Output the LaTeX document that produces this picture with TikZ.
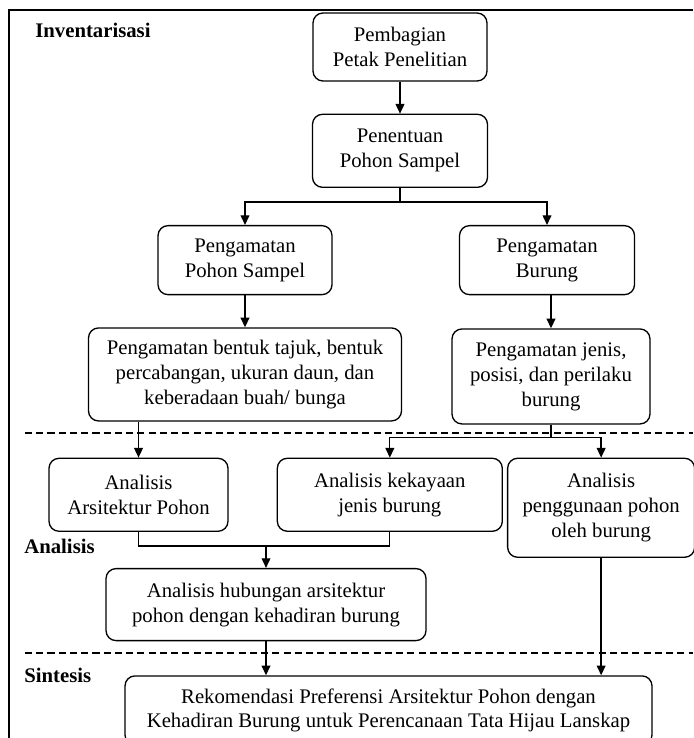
\documentclass[tikz,border=0pt]{standalone}
\usepackage{fontspec}
\setmainfont{Liberation Serif}
\usetikzlibrary{
  arrows.meta,
  positioning
}
\tikzset{
  flowbox/.style={draw, rounded corners=0.2cm, line width=0.75pt,
    align=center, inner sep=2pt,
    font=\fontsize{11.8}{14.2}\selectfont},
  arr/.style={-{Triangle[length=5.5pt, width=5pt]}, line width=0.75pt},
  lnk/.style={line width=0.75pt},
  stagesep/.style={dash pattern=on 4pt off 2.4pt, line width=0.65pt},
}

\begin{document}
\begin{tikzpicture}[
  stagelabel/.style={anchor=base west, inner sep=0pt,
    font=\fontsize{11.8}{14.2}\selectfont\bfseries}
]
  \useasboundingbox (0,0) rectangle (13.86,-14.76);
  % frame
  \draw[line width=1.3pt] (0.18,-14.76) |- (13.86,-0.2);

  % Inventarisasi
  \node[flowbox, minimum width=3.48cm, minimum height=1.36cm] (p1) at (8,-0.94)
    {Pembagian\\Petak Penelitian};
  \node[flowbox, minimum width=3.5cm, minimum height=1.46cm,
    below=0.64cm of p1] (p2) {Penentuan\\Pohon Sampel};
  \node[flowbox, minimum width=3.48cm, minimum height=1.38cm,
    below=0.74cm of p2, xshift=-3.1cm] (p3) {Pengamatan\\Pohon Sampel};
  \node[flowbox, minimum width=3.5cm, minimum height=1.38cm,
    below=0.74cm of p2, xshift=2.94cm] (p4) {Pengamatan\\Burung};
  \node[flowbox, minimum width=6.26cm, minimum height=1.86cm,
    below=0.64cm of p3] (p5)
    {Pengamatan bentuk tajuk, bentuk\\percabangan, ukuran daun, dan\\keberadaan buah/ bunga};
  \node[flowbox, minimum width=3.96cm, minimum height=1.9cm,
    below=0.66cm of p4, xshift=0.08cm] (p6)
    {Pengamatan jenis,\\posisi, dan perilaku\\burung};

  % Analisis
  \node[flowbox, minimum width=3.58cm, minimum height=1.46cm,
    below=0.72cm of p5, xshift=-2.13cm] (a1) {Analisis\\Arsitektur Pohon};
  \node[flowbox, minimum width=4.5cm, minimum height=1.46cm,
    right=0.96cm of a1] (a2) {Analisis kekayaan\\jenis burung};
  \node[flowbox, minimum width=3.74cm, minimum height=1.98cm,
    right=0.08cm of a2.north east, anchor=north west] (a3)
    {Analisis\\penggunaan pohon\\oleh burung};
  \node[flowbox, minimum width=6.4cm, minimum height=1.44cm,
    below=0.72cm of a1, xshift=2.55cm] (a4)
    {Analisis hubungan arsitektur\\pohon dengan kehadiran burung};

  % Sintesis
  \node[flowbox, minimum width=10.54cm, minimum height=1.38cm,
    below=0.68cm of a4, xshift=2.45cm] (s1)
    {Rekomendasi Preferensi Arsitektur Pohon dengan\\Kehadiran Burung untuk Perencanaan Tata Hijau Lanskap};

  % stage labels and separators
  \node[stagelabel] (lInv) at (0.70,-0.76) {Inventarisasi};
  \node[stagelabel] (lAna) at (0.48,-11.06) {Analisis};
  \node[stagelabel] (lSin) at (0.48,-13.64) {Sintesis};
  \draw[stagesep] (0.5,-8.66) -- (13.86,-8.66);
  \draw[stagesep] (0.5,-13.06) -- (13.86,-13.06);

  % connectors
  \draw[arr] (p1) -- (p2);
  \draw[arr] (p2.south) -- ++(0,-0.28) -| (p3.north);
  \draw[arr] (p2.south) -- ++(0,-0.28) -| (p4.north);
  \draw[arr] (p3) -- (p5);
  \draw[arr] (p4.south -| p6.north) -- (p6.north);
  \draw[arr] (p5.south -| a1.north) -- (a1.north);
  \draw[arr] (p6.south) -- ++(0,-0.26) -| (a2.north);
  \draw[arr] (p6.south) -- ++(0,-0.26) -| (a3.north);
  \coordinate (jn) at ([yshift=-0.28cm]a1.south);
  \draw[lnk] (a1.south) -- (jn) -| (a2.south);
  \draw[arr] (a4.north |- jn) -- (a4.north);
  \draw[arr] (a4.south) -- (a4.south |- s1.north);
  \draw[arr] (a3.south) -- (a3.south |- s1.north);
\end{tikzpicture}
\end{document}
